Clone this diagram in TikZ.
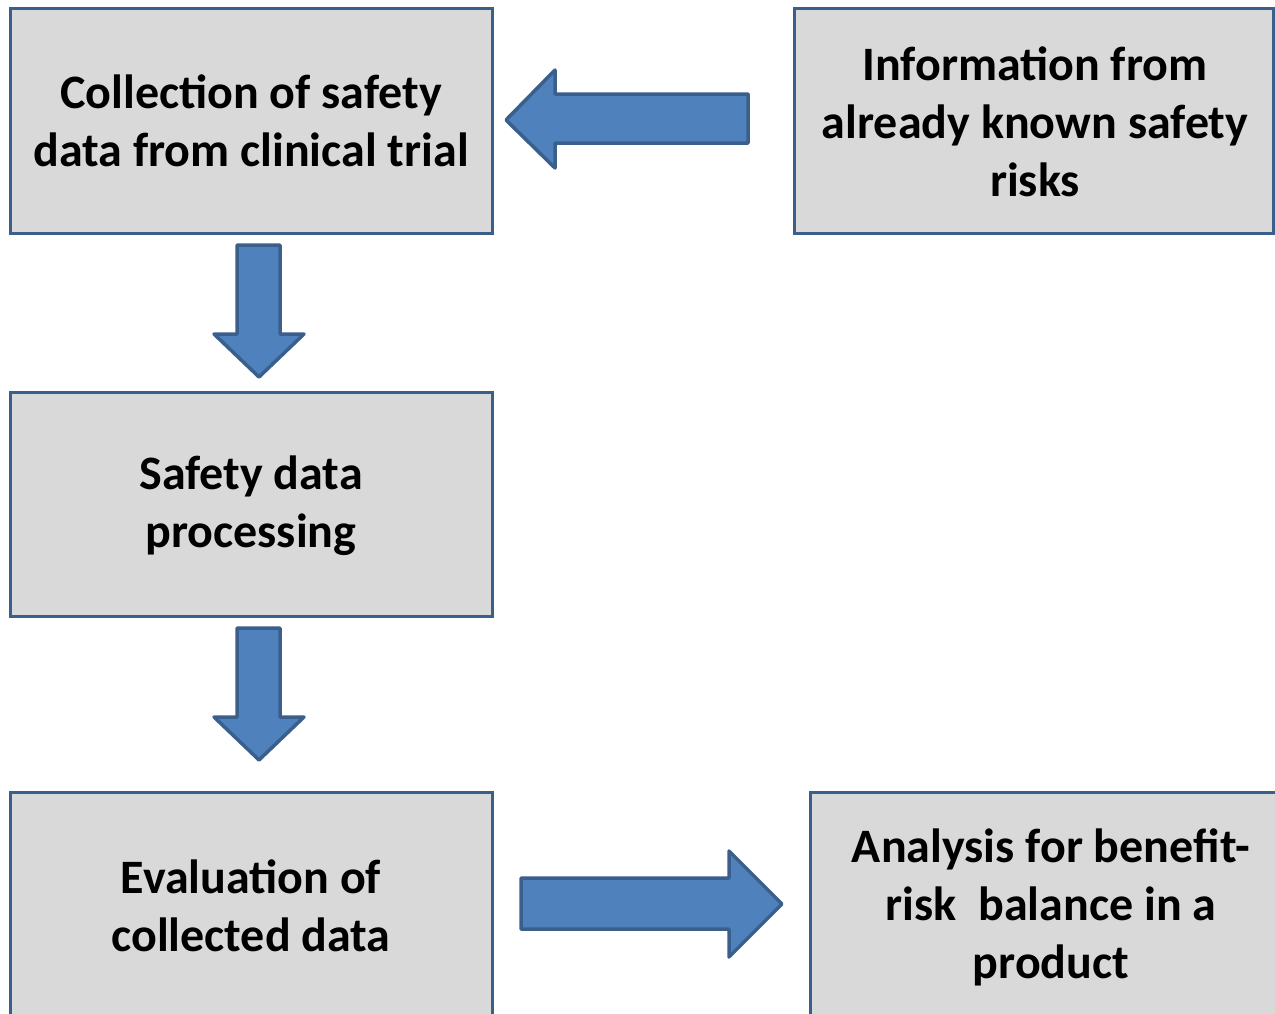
\documentclass[tikz,border=0pt]{standalone}
\usepackage{fontspec}
\setmainfont{Carlito}
\begin{document}
\begin{tikzpicture}[x=1pt,y=-1pt,
  box/.style={draw=boxline,line width=3pt,fill=boxfill},
  lbl/.style={align=center,font=\fontsize{48}{58}\selectfont\bfseries,inner sep=0pt},
  blk/.style={draw=arrline,line width=3.5pt,fill=arrfill,line join=round}]
\definecolor{boxline}{HTML}{3A5F8B}
\definecolor{boxfill}{HTML}{D9D9D9}
\definecolor{arrline}{HTML}{3A5F8C}
\definecolor{arrfill}{HTML}{4F81BD}
\useasboundingbox (0,0) rectangle (1275,1013);
\clip (0,0) rectangle (1275,1013);
% boxes
\draw[box] (10,8) rectangle (492,233);
\draw[box] (794,8) rectangle (1273,233);
\draw[box] (10,392) rectangle (492,616);
\draw[box] (10,792) rectangle (492,1020);
\draw[box] (810,792) rectangle (1290,1020);
% labels
\node[lbl] (b1) at (251,121) {Collection of safety\\data from clinical trial};
\node[lbl] (b2) at (1035,122) {Information from\\already known safety\\risks};
\node[lbl] (b3) at (251,506) {Safety data\\processing};
\node[lbl] (b4) at (251,906) {Evaluation of\\collected data};
\node[lbl] (b5) at (1051,907) {Analysis for benefit-\\risk\ \ balance in a\\product};
% block arrows
\draw[blk] (748,94) -- (555,94) -- (555,70) -- (506,120) -- (555,168) -- (555,143) -- (748,143) -- cycle;
\draw[blk] (237,245) -- (280,245) -- (280,334) -- (304,334) -- (259,377) -- (214,334) -- (237,334) -- cycle;
\draw[blk] (237,628) -- (280,628) -- (280,717) -- (304,717) -- (259,760) -- (214,717) -- (237,717) -- cycle;
\draw[blk] (521,878) -- (729,878) -- (729,851) -- (782,904) -- (729,957) -- (729,929) -- (521,929) -- cycle;
\end{tikzpicture}
\end{document}
